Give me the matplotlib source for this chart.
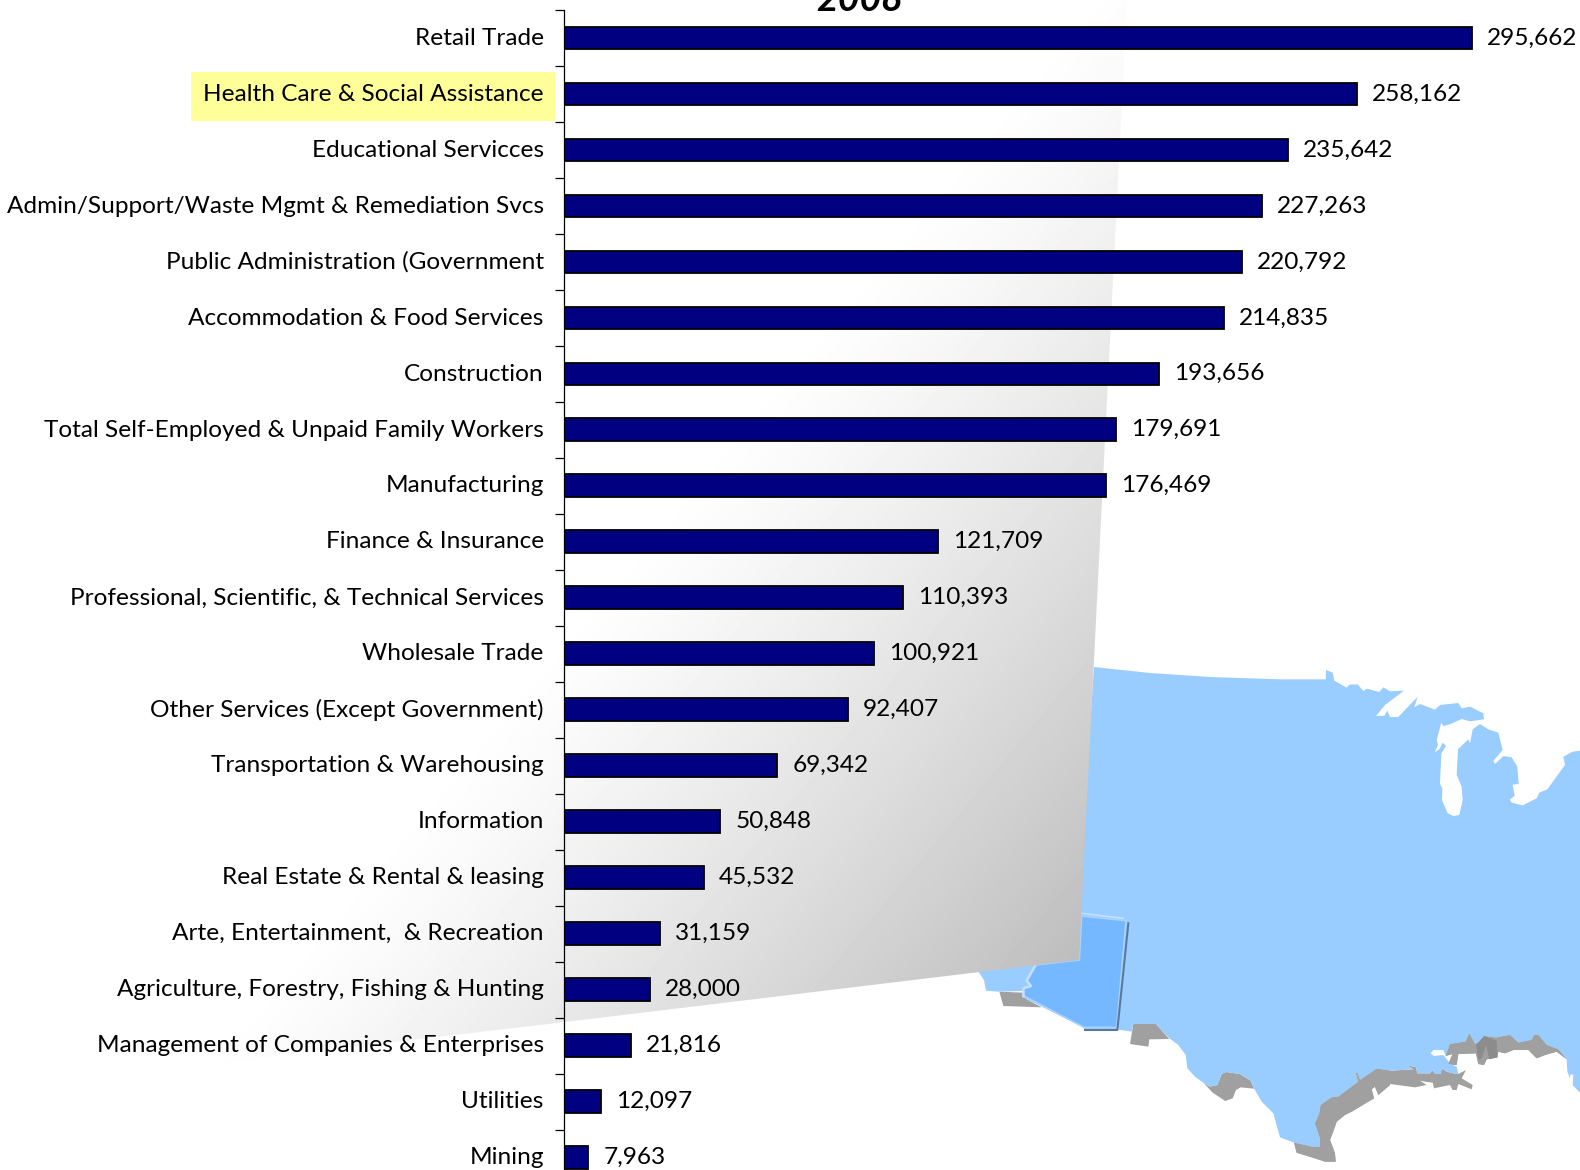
import numpy as np
import matplotlib
matplotlib.use("Agg")
import matplotlib.pyplot as plt
from matplotlib.patches import Polygon, Rectangle
from matplotlib.transforms import ScaledTranslation

plt.rcParams["font.family"] = ["Lato", "DejaVu Sans"]

categories = [
    "Retail Trade", "Health Care & Social Assistance", "Educational Servicces",
    "Admin/Support/Waste Mgmt & Remediation Svcs", "Public Administration (Government",
    "Accommodation & Food Services", "Construction",
    "Total Self-Employed & Unpaid Family Workers", "Manufacturing", "Finance & Insurance",
    "Professional, Scientific, & Technical Services", "Wholesale Trade",
    "Other Services (Except Government)", "Transportation & Warehousing", "Information",
    "Real Estate & Rental & leasing", "Arte, Entertainment,  & Recreation",
    "Agriculture, Forestry, Fishing & Hunting", "Management of Companies & Enterprises",
    "Utilities", "Mining",
]
values = [295662, 258162, 235642, 227263, 220792, 214835, 193656, 179691, 176469, 121709,
          110393, 100921, 92407, 69342, 50848, 45532, 31159, 28000, 21816, 12097, 7963]


def crop(x0, y0, points):
    pts = np.array(points, dtype=float)
    return np.column_stack([x0 + pts[:, 0] / 3, y0 + pts[:, 1] / 3])


# map outline pieces
land = np.vstack([
    np.array([(1094, 667), (1150, 673), (1210, 677)], dtype=float),
    crop(1280, 660, [(0,58),(137,58),(138,30),(158,38),(163,62),(200,83),(208,74),(233,73),(250,93),
                     (260,86),(298,96),(310,82),(330,94),(372,92),(315,135),(288,168),(313,167),
                     (322,152),(330,171),(355,171),(413,110),(403,142),(420,132),(465,149),(480,135),
                     (535,129),(545,145),(570,140),(610,160),(612,178),(570,184),(545,177),(510,193),
                     (490,198),(484,188),(470,240),(474,255),(464,277),(478,268),(488,248),(498,258),
                     (484,280),(480,372),(487,385),(486,420),(503,460),(520,468),(538,465),(548,420),
                     (545,380),(530,345),(534,268),(565,238),(570,250),(578,208),(600,192),(625,208),
                     (655,218),(668,270),(640,303),(645,312),(670,288),(695,292),(712,320),(716,372),
                     (698,374),(704,408),(690,418),(695,428),(728,436),(770,415),(778,398),(802,388),
                     (855,315),(850,290),(878,275),(900,272)]),
    crop(1280, 970, [(900,368),(878,345),(880,315),(872,312),(870,325),(862,305),(860,268),(835,238),
                     (800,225),(775,195),(762,195),(755,210),(715,218),(690,195),(648,203),(612,198),
                     (600,215),(585,222),(568,190),(557,215),(510,222),(497,258),(490,240),(460,240),
                     (452,250),(462,258),(490,255),(510,280),(530,290),(535,312),(520,310),(500,305),
                     (485,295),(482,312),(465,312),(458,300),(450,310),(412,310),(408,292),(378,284),
                     (400,298),(330,302),(290,296),(240,330),(232,308),(228,310),(235,335),(175,380),
                     (155,382),(122,405),(118,430),(105,460),(120,505),(120,530),(95,530),(42,518),(0,502)]),
    crop(1080, 970, [(580,430),(545,395),(520,352),(512,332),(480,312),(438,306),(425,312),(412,345),
                     (390,350),(372,340),(345,320),(322,295),(317,255),(295,225),(268,205),(228,162),
                     (160,162),(155,185),(110,178)]),
    crop(960, 890, [(375,418),(365,410),(190,322),(190,303),(118,305),(78,302),(72,270),(55,245),(0,250)]),
    np.array([(1075, 950)], dtype=float),
])
arizona = crop(960, 890, [(365,78),(498,92),(470,412),(372,412),(192,318),(190,295),(213,288),(200,272),
                          (228,225),(358,210)])
az_shadow = crop(960, 890, [(505,100),(472,420),(375,420)])
az_light_top = crop(960, 890, [(365,70),(490,85)])
az_light_left = crop(960, 890, [(225,228),(200,272),(213,288),(190,295),(190,318)])
shadows = [
    crop(960, 890, [(118,305),(190,308),(190,322),(245,352),(130,348)]),
    crop(1080, 970, [(160,162),(228,162),(268,207),(208,208),(205,230),(150,222)]),
    crop(1080, 970, [(372,340),(390,350),(412,345),(425,312),(438,306),(480,312),(512,332),(522,356),
                     (482,352),(468,360),(458,385),(436,393),(398,368)]),
    crop(1280, 970, [(290,296),(330,302),(330,345),(295,375),(285,350),(275,358),(282,385),(215,425),
                     (195,435),(170,455),(165,470),(150,510),(165,550),(167,575),(135,575),(105,565),
                     (50,548),(42,518),(95,530),(120,530),(120,505),(105,460),(118,430),(122,405),
                     (155,382),(175,380),(235,335),(228,310),(232,308),(240,330)]),
    crop(1280, 970, [(330,302),(400,298),(378,284),(408,292),(412,310),(450,310),(458,300),(465,312),
                     (482,312),(485,295),(500,305),(520,310),(535,312),(558,300),(545,325),(578,345),
                     (575,358),(535,342),(530,360),(518,360),(510,345),(462,355),(458,338),(435,335),
                     (420,332),(440,345),(405,352),(330,342)]),
    crop(1280, 970, [(497,258),(510,222),(557,215),(568,190),(585,222),(600,215),(612,198),(648,203),
                     (690,195),(715,218),(755,210),(762,195),(775,195),(800,225),(835,238),(860,268),
                     (830,245),(795,255),(770,265),(745,240),(700,240),(675,250),(655,245),(652,262),
                     (620,268),(612,285),(595,282),(588,250),(535,252),(530,285),(505,282),(518,252)]),
    crop(1280, 970, [(880,18),(900,30),(900,48)]),
]
shadow_dark = crop(1280, 970, [(588,225),(612,198),(650,212),(652,262),(628,268),(618,225),(605,265),(595,270)])

fig = plt.figure(figsize=(15.8, 11.7), dpi=100, facecolor="white")

# background layer in pixel coordinates
bg = fig.add_axes([0, 0, 1, 1], zorder=0)
bg.set_xlim(0, 1580)
bg.set_ylim(1170, 0)
bg.axis("off")

for s in shadows:
    bg.add_patch(Polygon(s, closed=True, fc="#a0a0a0", ec="none", zorder=1))
bg.add_patch(Polygon(land, closed=True, fc="#99ccff", ec="none", zorder=2))
bg.add_patch(Polygon(shadows[3], closed=True, fc="#a0a0a0", ec="none", zorder=2.1))
bg.add_patch(Polygon(shadows[5], closed=True, fc="#a0a0a0", ec="none", zorder=2.1))
bg.add_patch(Polygon(shadow_dark, closed=True, fc="#8c8c8c", ec="none", zorder=2.2))
bg.add_patch(Polygon(arizona, closed=True, fc="#75b8ff", ec="#a8d2ff", lw=1.2, zorder=3))
bg.plot(az_shadow[:, 0], az_shadow[:, 1], color="#5a7a99", lw=1.5, zorder=4)
bg.plot(az_light_top[:, 0], az_light_top[:, 1], color="#c5e0ff", lw=1.2, zorder=4)
bg.plot(az_light_left[:, 0], az_light_left[:, 1], color="#c5e0ff", lw=1.8, zorder=4)

# grey gradient panel over the map
xx, yy = np.meshgrid(np.arange(0, 1580, 4), np.arange(0, 1170, 4))
t = np.clip(1 - (1079 - xx) / 800 - (960 - yy) / 960, 0, None)
shade = 1 - 0.26 * t ** 1.2
img = bg.imshow(shade, extent=(0, 1580, 1170, 0), cmap="gray", vmin=0, vmax=1,
                aspect="auto", zorder=5, interpolation="bilinear")
panel = Polygon([(0, 0), (1127, 0), (1079, 960), (565, 1022), (0, 1088)], closed=True,
                transform=bg.transData, fc="none", ec="none")
bg.add_patch(panel)
img.set_clip_path(panel)
bg.set_xlim(0, 1580)
bg.set_ylim(1170, 0)

# highlight behind the Health Care label
bg.add_patch(Rectangle((191, 72), 364, 49, fc="#ffff99", ec="none", zorder=6))

# bars
ax = fig.add_axes([564 / 1580, 0, 1016 / 1580, 1160 / 1170], zorder=1)
ax.patch.set_alpha(0)
y = np.arange(len(categories))
bars = ax.barh(y, values, height=0.405, color="#000080", edgecolor="black", linewidth=1.3)
ax.set_xlim(0, 1016 / 0.003071)
ax.set_ylim((1170 - 38.5) / 55.95, -0.5 + 0.5 / 55.95)
ax.bar_label(bars, labels=[f"{v:,}" for v in values], padding=11, fontsize=17.6, color="black")

ax.set_yticks(y - 0.5)
ax.set_yticklabels([])
ax.set_yticks(y, labels=categories, minor=True)
ax.tick_params(axis="y", which="major", length=6.5, width=0.9, color="black")
ax.tick_params(axis="y", which="minor", length=0, pad=14.5, labelsize=17.6, labelcolor="black")
shift = ScaledTranslation(0, 1.3 / 72, fig.dpi_scale_trans)
for lbl in ax.get_yticklabels(minor=True):
    lbl.set_transform(lbl.get_transform() + shift)
ax.xaxis.set_visible(False)
for side in ["top", "right", "bottom"]:
    ax.spines[side].set_visible(False)
ax.spines["left"].set_linewidth(0.9)

fig.text(860 / 1580, 1 - 11 / 1170, "2008", ha="center", va="baseline", fontsize=27,
         fontweight="bold", fontstyle="italic", color="black", zorder=3)

fig.savefig("out.png", dpi=100)
